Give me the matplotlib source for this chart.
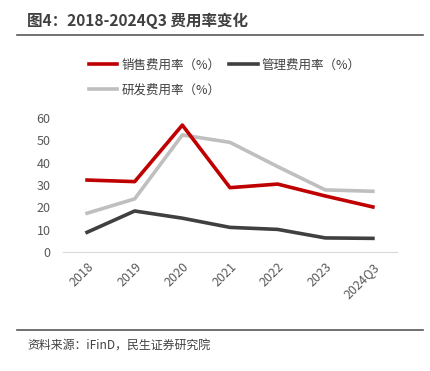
import numpy as np
import matplotlib.pyplot as plt
from matplotlib.lines import Line2D

plt.rcParams['font.family'] = ['Noto Sans CJK SC', 'DejaVu Sans']

years = ['2018', '2019', '2020', '2021', '2022', '2023', '2024Q3']
sales = [32.2, 31.5, 56.7, 28.8, 30.4, 25.1, 20.2]
admin = [8.9, 18.4, 15.2, 11.1, 10.2, 6.4, 6.2]
rnd = [17.4, 23.8, 52.3, 49.0, 38.2, 27.8, 27.2]

fig = plt.figure(figsize=(4.3, 3.71), dpi=100)
ax = fig.add_axes([0.147, 0.320, 0.7756, 0.3628])

x = np.arange(len(years))
l_rnd, = ax.plot(x, rnd, color='#BFBFBF', lw=2.6, clip_on=False)
l_admin, = ax.plot(x, admin, color='#404040', lw=2.6, clip_on=False)
l_sales, = ax.plot(x, sales, color='#C00000', lw=2.6, clip_on=False)

ax.set_xlim(-0.5, 6.5)
ax.set_ylim(0, 60)
ax.set_yticks(range(0, 61, 10))
ax.set_xticks(x)
ax.set_xticklabels(years, rotation=45, ha='right', rotation_mode='anchor')
ax.tick_params(axis='both', length=0, labelsize=9, labelcolor='#595959')
ax.tick_params(axis='y', pad=9)
ax.tick_params(axis='x', pad=6)
for s in ['top', 'right', 'left']:
    ax.spines[s].set_visible(False)
ax.spines['bottom'].set_color('#D9D9D9')
ax.spines['bottom'].set_linewidth(0.8)

fig.legend([l_sales, l_rnd, l_admin],
           ['销售费用率（%）', '研发费用率（%）', '管理费用率（%）'],
           ncol=2, loc='upper left', bbox_to_anchor=(0.18, 0.872),
           frameon=False, fontsize=9, handlelength=2.3, handletextpad=0.3,
           columnspacing=0.7, labelspacing=0.95, labelcolor='#404040')

fig.text(0.063, 0.967, '图4：2018-2024Q3 费用率变化', fontsize=11.2,
         fontweight='bold', color='#404040', va='top')
fig.add_artist(Line2D([0.04, 0.984], [0.905, 0.905], color='#595959', lw=1.2))
fig.add_artist(Line2D([0.04, 0.984], [0.11, 0.11], color='#595959', lw=1.2))
fig.text(0.063, 0.07, '资料来源：iFinD，民生证券研究院', fontsize=8.6,
         color='#404040', va='center')

fig.savefig('out.png', dpi=100)
